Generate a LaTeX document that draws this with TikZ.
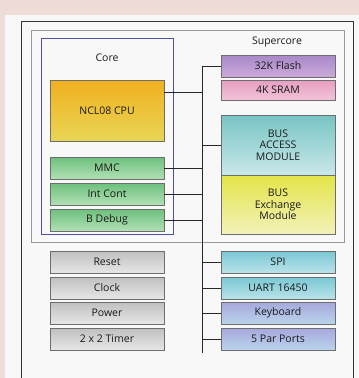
\documentclass[tikz,border=0pt]{standalone}
\usepackage{fontspec}
\setmainfont{Open Sans}
\usepackage{tikz}
\usetikzlibrary{positioning}
\usepackage{xcolor}
\definecolor{scpink}{RGB}{238,221,215}
\definecolor{scpanel}{RGB}{248,248,248}
\definecolor{scedge}{RGB}{110,110,110}
\definecolor{scblue}{RGB}{80,80,160}
\definecolor{sctext}{RGB}{25,25,25}
\definecolor{cputop}{RGB}{240,176,32}
\definecolor{cpubot}{RGB}{232,214,84}
\definecolor{greentop}{RGB}{108,192,124}
\definecolor{greenbot}{RGB}{178,224,182}
\definecolor{graytop}{RGB}{192,192,192}
\definecolor{graybot}{RGB}{230,230,230}
\definecolor{flashtop}{RGB}{168,136,200}
\definecolor{flashbot}{RGB}{204,170,218}
\definecolor{sramtop}{RGB}{230,158,194}
\definecolor{srambot}{RGB}{242,194,216}
\definecolor{accesstop}{RGB}{120,196,196}
\definecolor{accessbot}{RGB}{202,232,234}
\definecolor{xchtop}{RGB}{228,228,72}
\definecolor{xchbot}{RGB}{242,242,186}
\definecolor{spitop}{RGB}{120,200,212}
\definecolor{spibot}{RGB}{186,226,234}
\definecolor{kbdtop}{RGB}{166,168,220}
\definecolor{kbdbot}{RGB}{186,212,236}
\tikzstyle{link} = [line width=0.9pt, color=black!85]
\tikzstyle{unit} = [rectangle, minimum width=114pt, minimum height=22pt, inner sep=0pt, text centered, align=center, draw=scedge, line width=0.8pt, text=sctext, font=\fontsize{10.5}{11.5}\selectfont]
\tikzstyle{cpu} = [unit, top color=cputop, bottom color=cpubot]
\tikzstyle{green} = [unit, top color=greentop, bottom color=greenbot]
\tikzstyle{grey} = [unit, top color=graytop, bottom color=graybot]
\tikzstyle{flash} = [unit, top color=flashtop, bottom color=flashbot]
\tikzstyle{sram} = [unit, top color=sramtop, bottom color=srambot]
\tikzstyle{access} = [unit, top color=accesstop, bottom color=accessbot]
\tikzstyle{xch} = [unit, top color=xchtop, bottom color=xchbot]
\tikzstyle{spi} = [unit, top color=spitop, bottom color=spibot]
\tikzstyle{kbd} = [unit, top color=kbdtop, bottom color=kbdbot]

\begin{document}
\begin{tikzpicture}[x=1pt, y=-1pt]
% Background and frames
\fill[scpink] (0,0) rectangle (359,378);
\fill[scpanel] (5,15) rectangle (359,378);
\useasboundingbox (0,0) rectangle (359,378);
\draw[line width=1pt, black!80] (21,380) -- (21,21) -- (353,21) -- (353,380);
\draw[line width=1pt, black!40] (31,30) rectangle (344,242);
\draw[line width=0.8pt, scblue] (41,38) rectangle (173,234);
\node[text=sctext, font=\fontsize{10.5}{11.5}\selectfont] (corelbl) at (107,58) {Core};
\node[text=sctext, font=\fontsize{10.5}{11.5}\selectfont] (suplbl) at (277,42) {Supercore};

% Core units
\node[cpu, minimum height=61pt] (cpu) at (107,110.5) {NCL08 CPU};
\node[green] (mmc) at (107,168) {MMC};
\node[green] (intc) at (107,194) {Int Cont};
\node[green] (bdbg) at (107,220) {B Debug};

% System units
\node[grey] (reset) at (107,262) {Reset};
\node[grey] (clock) at (107,288) {Clock};
\node[grey] (power) at (107,313) {Power};
\node[grey] (timer) at (107,339) {2 x 2 Timer};

% Supercore units
\node[flash] (flash) at (278,66) {32K Flash};
\node[sram, minimum height=20pt] (sram) at (278,90) {4K SRAM};
\node[access, minimum height=60pt] (access) at (278,145) {BUS\\ACCESS\\MODULE};
\node[xch, minimum height=59pt] (xch) at (278,204.5) {BUS\\Exchange\\Module};

% Peripherals
\node[spi] (spi) at (278,262) {SPI};
\node[spi] (uart) at (278,288) {UART 16450};
\node[kbd] (kbd) at (278,313) {Keyboard};
\node[kbd] (ports) at (278,339) {5 Par Ports};

% Bus
\coordinate (busend) at (202,353);
\draw[link] (flash.west) -| (busend);
\draw[link] ([yshift=18.5pt]cpu.east) -- ([yshift=18.5pt]cpu.east -| busend);
\foreach \n in {mmc,intc,bdbg}
  \draw[link] (\n.east) -- (\n.east -| busend);
\foreach \n in {access,spi,uart,kbd,ports}
  \draw[link] (\n.west) -- (\n.west -| busend);
\end{tikzpicture}
\end{document}
